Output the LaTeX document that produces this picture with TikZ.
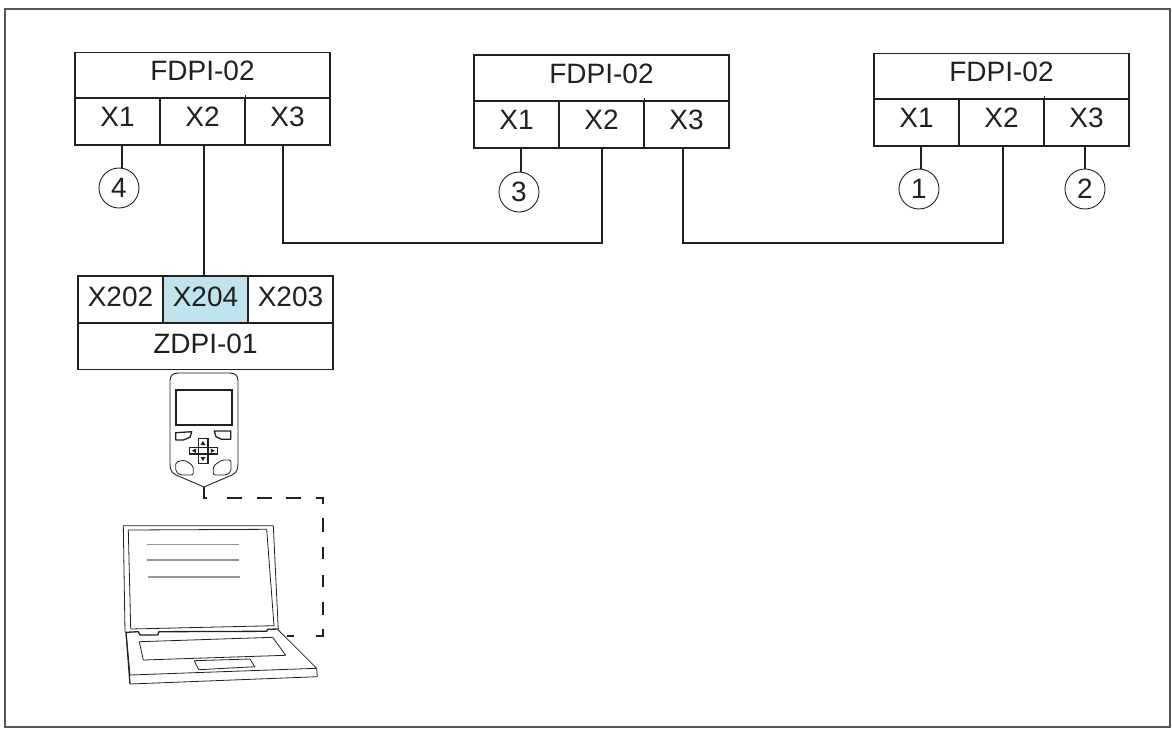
\documentclass[tikz,border=0pt]{standalone}
\usepackage{fontspec}
\setmainfont{Liberation Sans}
\definecolor{ink}{HTML}{231F20}
\definecolor{hl}{HTML}{BFE4EE}
\definecolor{lgrey}{HTML}{939598}
\definecolor{framec}{HTML}{555555}
\tikzset{
  cell/.style={draw=ink,line width=1.8pt,inner sep=0pt,outer sep=0pt,minimum height=#1,
    font=\fontsize{28}{30}\selectfont,text=ink,text height=19.8pt,text depth=9.2pt},
  cell/.default=46pt,
  portcell/.style={cell=47pt},
  lowcell/.style={cell=47pt,text depth=5.2pt},
  num/.style={circle,draw=ink,line width=0.9pt,inner sep=0pt,outer sep=0pt,minimum size=40pt,
    font=\fontsize{28}{30}\selectfont,text=ink,text height=19.5pt,text depth=0pt},
  wire/.style={draw=ink,line width=1.8pt},
  thin shape/.style={draw=ink,line width=0.9pt,line join=round},
  lap/.style={draw=ink,line width=0.8pt,line join=round},
  keyp/.style={draw=ink,line width=1.3pt,line join=round},
  softb/.style={draw=ink,line width=0.8pt,line join=round,rounded corners=2pt}
}
\begin{document}
\begin{tikzpicture}[x=1pt,y=-1pt]
\useasboundingbox (0,0) rectangle (1172,728);
\draw[framec,line width=1.5pt] (5,9) rectangle (1170,727);

% FDPI-02 left
\node[cell,minimum width=255pt] (a) at (202.5,75.5) {FDPI-02};
\node[portcell,minimum width=85pt] (a1) at (117.5,121.5) {X1};
\node[portcell,minimum width=85pt] (a2) at (202.5,121.5) {X2};
\node[portcell,minimum width=85pt] (a3) at (287.5,121.5) {X3};
% FDPI-02 middle
\node[cell,minimum width=255pt] (b) at (601.5,78) {FDPI-02};
\node[portcell,minimum width=85.5pt] (b1) at (516.5,124.5) {X1};
\node[portcell,minimum width=85pt] (b2) at (601.5,124.5) {X2};
\node[portcell,minimum width=85pt] (b3) at (686.5,124.5) {X3};
% FDPI-02 right
\node[cell,minimum width=255pt] (c) at (1001.5,76.5) {FDPI-02};
\node[portcell,minimum width=85pt] (c1) at (916.5,122.5) {X1};
\node[portcell,minimum width=85pt] (c2) at (1001.5,122.5) {X2};
\node[portcell,minimum width=85pt] (c3) at (1086.5,122.5) {X3};
% ZDPI-01
\node[lowcell,minimum width=85pt] (z1) at (120.5,299.5) {X202};
\node[lowcell,minimum width=85pt,fill=hl] (z2) at (205.5,299.5) {X204};
\node[lowcell,minimum width=85pt] (z3) at (290.5,299.5) {X203};
\node[lowcell,minimum width=255pt] (z) at (205.5,346) {ZDPI-01};

% numbered circles
\node[num] (n4) at (119,188) {4};
\node[num] (n3) at (519,192) {3};
\node[num] (n1) at (919,189) {1};
\node[num] (n2) at (1085,189) {2};

% divider stubs
\draw[ink,line width=1pt] (a3.north west) -- ([yshift=3pt]a3.north west);
\draw[ink,line width=1pt] (b3.north west) -- ([yshift=3pt]b3.north west);
\draw[ink,line width=1pt] (c3.north west) -- ([yshift=3pt]c3.north west);

% connectors
\draw[wire] ([xshift=4.5pt]a1.south) -- ([xshift=3pt]n4.north);
\draw[wire] ([xshift=4.5pt]b1.south) -- ([xshift=2pt]n3.north);
\draw[wire] ([xshift=4.5pt]c1.south) -- ([xshift=2pt]n1.north);
\draw[wire] ([xshift=-1.5pt]c3.south) -- (n2.north);
\draw[wire] ([xshift=1.5pt]a2.south) -- ([xshift=-1.5pt]z2.north);
\coordinate (j1) at (283,243);
\coordinate (j2) at (683,243);
\draw[wire,line join=miter] ([xshift=-4.5pt]a3.south) -- (j1) -| ([xshift=0.5pt]b2.south);
\draw[wire,line join=miter] ([xshift=-3.5pt]b3.south) -- (j2) -| ([xshift=1.5pt]c2.south);

% keypad
\draw[thin shape] (170,381) .. controls (170,375) and (173,373) .. (179,373)
  -- (229,373) .. controls (235,373) and (238,375) .. (238,381)
  -- (238,464) .. controls (238,470) and (236,473) .. (232,475)
  -- (204,487) coordinate (tip)
  -- (176,475) .. controls (172,473) and (170,470) .. (170,464) -- cycle;
\draw[ink,line width=1.5pt] (176,390) rectangle (232,425);
\draw[keyp] (175.7,432.7) -- (191.7,431.7) -- (190,437.3) -- (183.3,440) -- (175.7,440) -- cycle;
\draw[keyp] (214.3,431) -- (230.7,431) -- (230.7,439.3) -- (221.7,439.3) -- (216,436.7) -- cycle;
\draw[ink,line width=1.5pt] (198.3,438.3) rectangle (207.8,447.5);
\draw[ink,line width=1.5pt] (198.3,454) rectangle (207.8,463.3);
\draw[ink,line width=1.5pt] (189.3,447.5) rectangle (198.3,454);
\draw[ink,line width=1.5pt] (207.8,447.5) rectangle (217.3,454);
\fill[ink] (203,441) -- (200.5,445) -- (205.5,445) -- cycle;
\fill[ink] (203,461) -- (200.5,457) -- (205.5,457) -- cycle;
\fill[ink] (192,450.7) -- (196,448.5) -- (196,453) -- cycle;
\fill[ink] (214.8,450.7) -- (210.8,448.5) -- (210.8,453) -- cycle;
\draw[softb] (175.7,462) -- (185,460) -- (193.3,466) -- (193.3,475) -- (180,475) -- (175.7,471.7) -- cycle;
\draw[softb] (231,460) -- (221.7,460) -- (213.3,466) -- (213.3,475) -- (226.7,475) -- (231,471.7) -- cycle;

% laptop
\draw[lap] (125,632) -- (123.3,525.7) -- (273.3,525.7) -- (278.3,630);
\draw[lap] (128.3,530) -- (266.7,529.3) -- (274,625.7) -- (130.7,629) -- cycle;
\draw[lgrey,line width=1.5pt] (147,544.7) -- (239,544.7);
\draw[lgrey,line width=1.5pt] (147,560) -- (239,560);
\draw[lgrey,line width=1.5pt] (148,577) -- (240,577);
\draw[ink,line width=1.3pt,line join=round] (126,632.3) -- (138.3,631.7) -- (140,635) -- (157.7,635) -- (159,631.7) -- (266.7,631.3) -- (267.7,629.3) -- (278.3,629);
\draw[lap] (126,632) -- (130,675) -- (316.7,668.3) -- (278.3,630);
\draw[lap] (316.7,668.3) -- (317.3,676.7) -- (130,684);
\draw[ink,line width=1.3pt] (126,632) -- (130,684);
\draw[lap] (139.3,641.7) -- (272.7,637.3) -- (285.7,655.3) -- (143.3,660) -- cycle;
\draw[lap] (194.3,660.7) -- (250,659) -- (254.7,666.7) -- (198.7,669.7) -- cycle;
\coordinate (lapside) at (287,636);

% dashed link keypad to laptop
\coordinate (d1) at (204,498);
\coordinate (d2) at (323,498);
\coordinate (d3) at (323,636);
\draw[ink,line width=1.5pt,line join=miter,
  dash pattern=on 14pt off 20pt on 15pt off 15pt on 15pt off 14pt on 15pt off 15pt on 13pt off 14pt on 14pt off 15pt on 12pt off 16pt on 12pt off 15pt on 13pt off 14pt on 14pt off 22pt on 7pt off 40pt]
  (tip) -- (d1) -- (d2) -- (d3) -- (lapside);
\end{tikzpicture}
\end{document}
